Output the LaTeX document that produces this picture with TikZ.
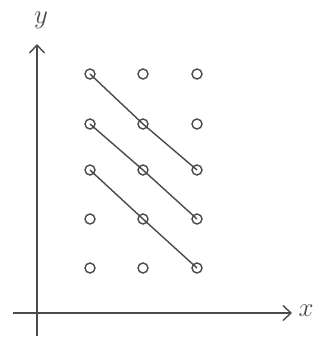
\documentclass[tikz,border=0pt]{standalone}
\usepackage{tikz}
\usetikzlibrary{arrows.meta,positioning}
\definecolor{Pencil}{HTML}{4A4A4A}

\begin{document}
\begin{tikzpicture}[x=1pt, y=-1pt, line width=1.4pt,
    every node/.style={font=\huge, text=Pencil},
    axislabel/.style={scale=1.3, inner sep=0pt},
    dot/.style={circle, draw=Pencil, line width=1.4pt, minimum size=10pt, inner sep=0pt},
    axis/.style={-{Straight Barb[length=8pt, width=15pt, line width=1.4pt]}}]
  \useasboundingbox (0,0) rectangle (330,340);
  % axes
  \coordinate (o)  at (37,313);
  \coordinate (xs) at (13,313);
  \coordinate (xe) at (292,313);
  \coordinate (ys) at (37,336);
  \coordinate (ye) at (37,44);
  \draw[axis, Pencil] (xs) -- (xe);
  \draw[axis, Pencil] (ys) -- (ye);
  \node[axislabel] (xlabel) at (306,311) {$x$};
  \node[axislabel] (ylabel) at (41,20) {$y$};
  % lattice of points
  \foreach \i/\x in {1/90, 2/143, 3/197}
    \foreach \j/\y in {1/74, 2/124, 3/170, 4/219, 5/268}
      \node[dot] (p-\i-\j) at (\x,\y) {};
  % diagonals
  \draw[Pencil] (p-1-1.center) -- (p-2-2.center) -- (p-3-3.center);
  \draw[Pencil] (p-1-2.center) -- (p-2-3.center) -- (p-3-4.center);
  \draw[Pencil] (p-1-3.center) -- (p-2-4.center) -- (p-3-5.center);
\end{tikzpicture}
\end{document}
